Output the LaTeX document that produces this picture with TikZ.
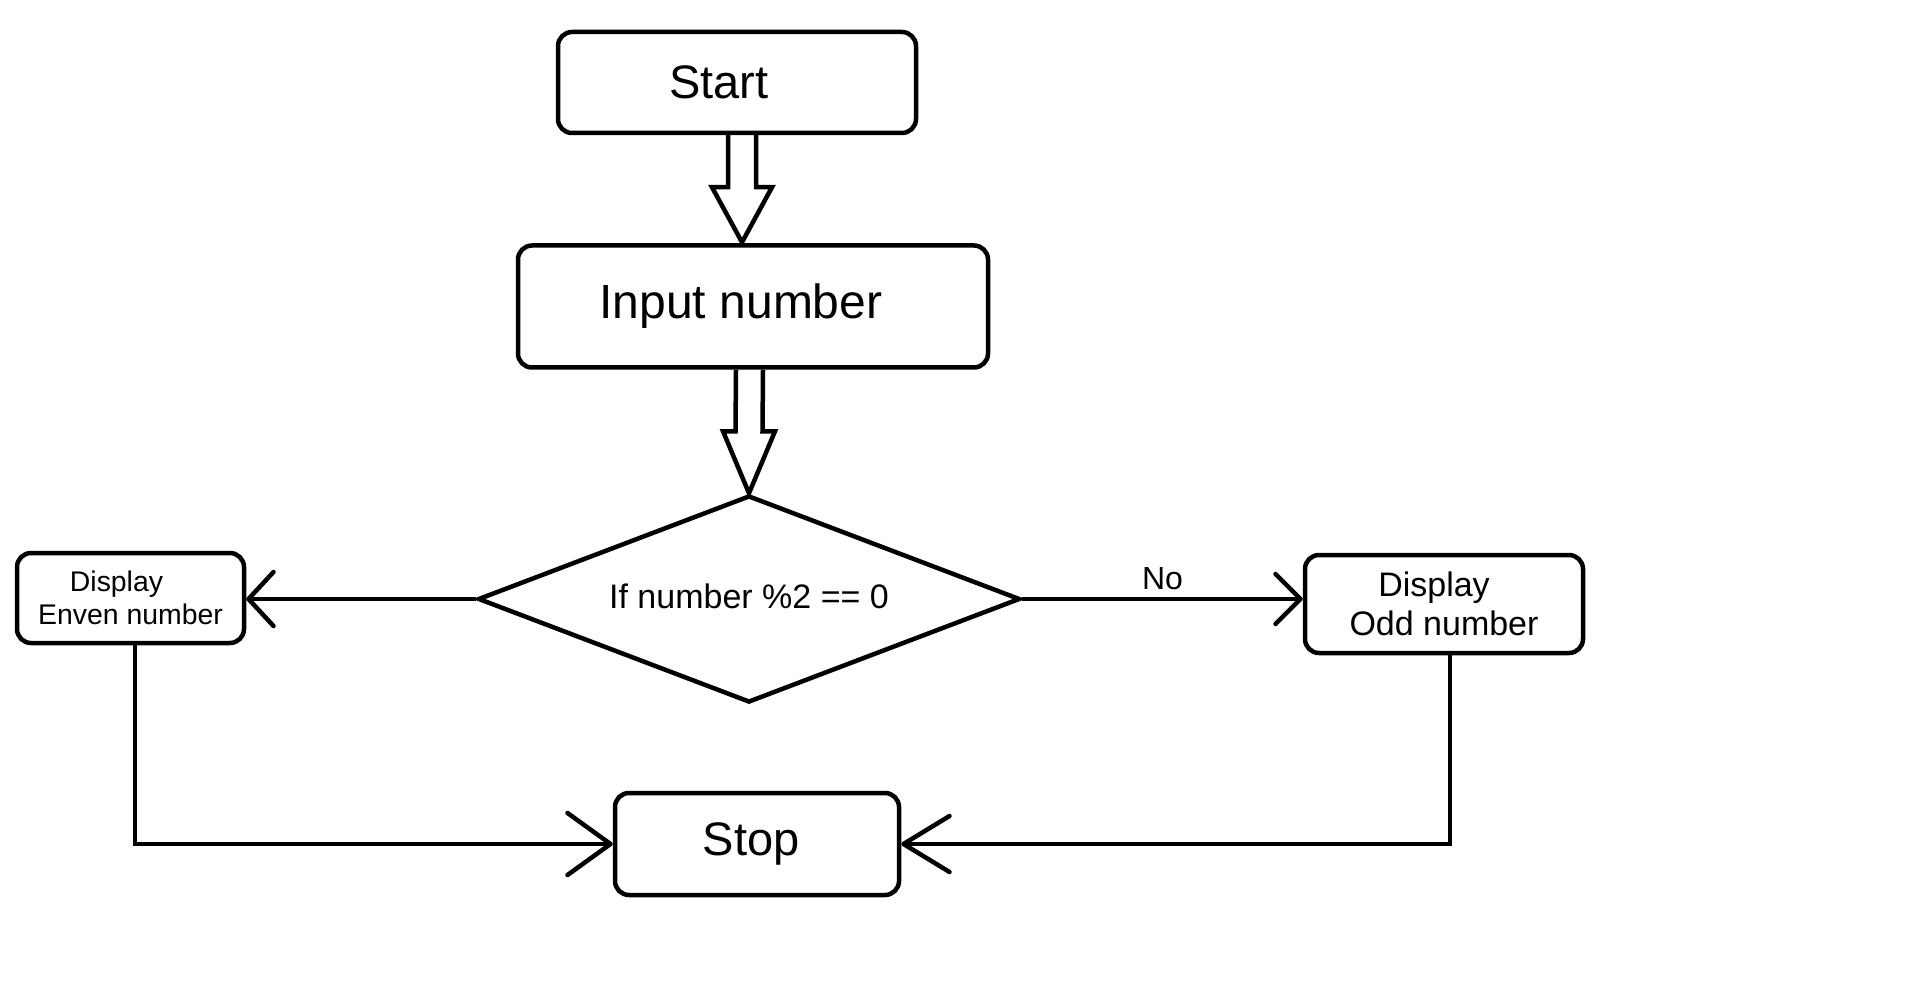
\documentclass[tikz,border=0pt]{standalone}
\usepackage{fontspec}
\setmainfont{Liberation Sans}
\usetikzlibrary{shapes.geometric,arrows.meta,calc}
\tikzset{
  box/.style={draw, line width=4.5pt, rounded corners=14pt, inner sep=0pt, align=center},
  decision/.style={draw, diamond, line width=4.5pt, inner sep=0pt, aspect=2.6},
  link/.style={line width=4.5pt},
  fat/.style={line width=4.5pt, line join=miter},
}
\newcommand\fatarr[5]{%
  \draw[fat] ($(#1)+(-#3,0)$) -- ($(#2)+(-#3,-#5)$) -- ($(#2)+(-#4,-#5)$) -- (#2)
    -- ($(#2)+(#4,-#5)$) -- ($(#2)+(#3,-#5)$) -- ($(#1)+(#3,0)$);}
\begin{document}
\begin{tikzpicture}[x=1pt, y=-1pt]
  \useasboundingbox[fill=white] (0,0) rectangle (1914,981);

  \node[box, minimum width=358pt, minimum height=101pt, font=\fontsize{47}{56}\selectfont]
    (start) at (737,82.5) {Start\hspace*{36pt}};
  \node[box, minimum width=470pt, minimum height=122pt, font=\fontsize{48}{56}\selectfont]
    (input) at (753,306.5) {Input number\hspace*{24pt}};
  \node[decision, minimum width=542pt, minimum height=207pt, font=\fontsize{34}{40}\selectfont]
    (d) at (749,599) {\raisebox{6pt}{If number \%2 == 0}};
  \node[box, minimum width=227pt, minimum height=90pt, font=\fontsize{28.4}{33}\selectfont]
    (even) at (130.5,598) {Display\hspace*{28pt}\\Enven number};
  \node[box, minimum width=278pt, minimum height=98pt, font=\fontsize{34}{39}\selectfont]
    (odd) at (1444,604) {Display\hspace*{20pt}\\Odd number};
  \node[box, minimum width=284pt, minimum height=102pt, font=\fontsize{47}{56}\selectfont]
    (stop) at (757,844) {Stop\hspace*{12pt}};

  \coordinate (a1s) at ($(start.south)+(5,0)$);
  \coordinate (a1e) at ($(input.north)+(-11,-1)$);
  \fatarr{a1s}{a1e}{14}{30}{55}
  \coordinate (a2s) at ($(input.south)+(-3.5,0)$);
  \coordinate (a2e) at (d.north);
  \fatarr{a2s}{a2e}{13.5}{26}{62}

  \draw[link, -{Straight Barb[length=25pt, width=54pt, line cap=round, line join=round]}]
    (d.west) -- (d.west -| even.east);
  \draw[link, -{Straight Barb[length=25pt, width=50pt, line cap=round, line join=round]}]
    (d.east) -- node[midway, yshift=20pt, font=\fontsize{32}{38}\selectfont] (no) {No} (d.east -| odd.west);
  \draw[link, -{Straight Barb[length=43pt, width=62pt, line cap=round, line join=round]}]
    ($(even.south)+(4.5,0)$) |- (stop.west);
  \draw[link, -{Straight Barb[length=46pt, width=56pt, line cap=round, line join=round]}]
    ($(odd.south)+(6,0)$) |- (stop.east);
\end{tikzpicture}
\end{document}
